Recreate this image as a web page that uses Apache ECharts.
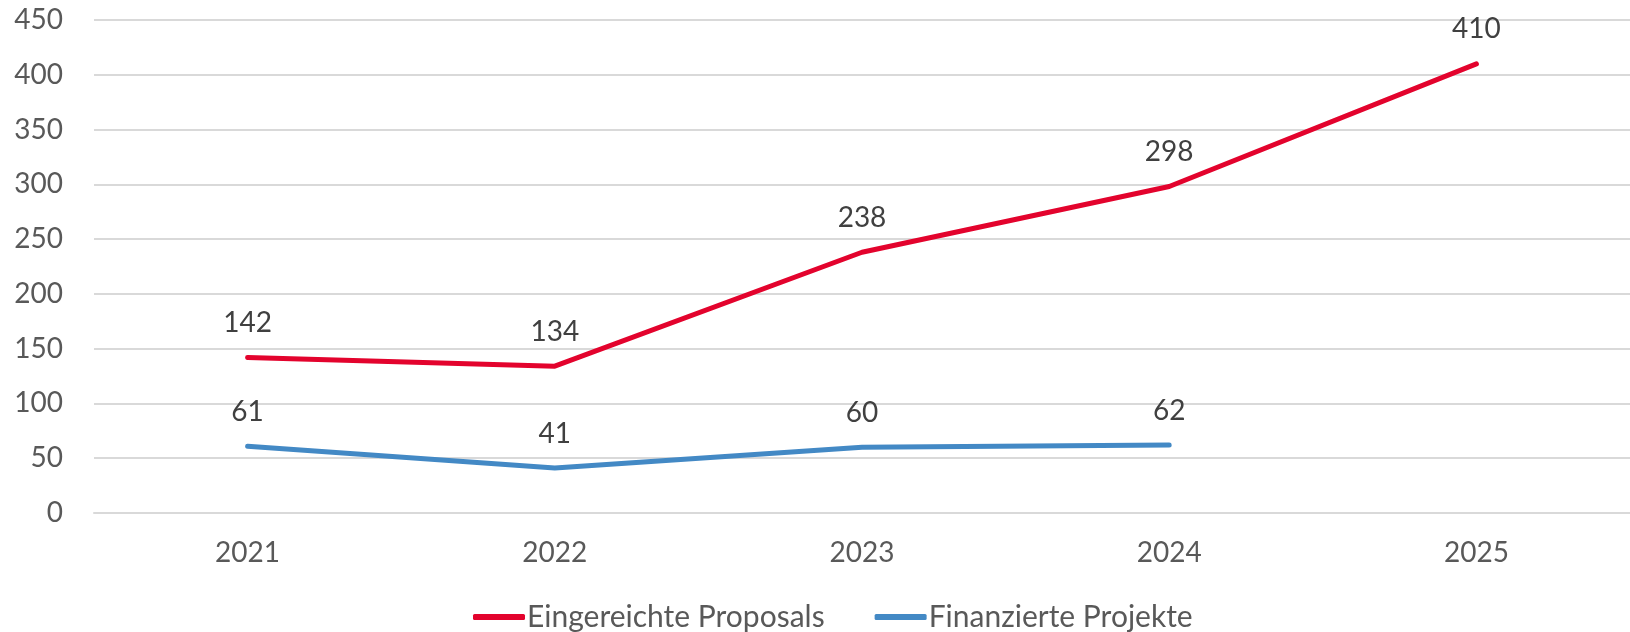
<!DOCTYPE html>
<html>
<head>
<meta charset="utf-8">
<script src="https://cdn.jsdelivr.net/npm/echarts@6/dist/echarts.min.js"></script>
<style>html,body{margin:0;padding:0;background:#fff}#c{width:1630px;height:632px}</style>
</head>
<body>
<div id="c"></div>
<script>
const categories = ['2021', '2022', '2023', '2024', '2025'];
const proposals = [142, 134, 238, 298, 410];
const projekte = [61, 41, 60, 62, null];
const seriesNames = ['Eingereichte Proposals', 'Finanzierte Projekte'];
const yTicks = { min: 0, max: 450, interval: 50 };

const FONT = 'Lato';
const chart = echarts.init(document.getElementById('c'), null, { renderer: 'canvas' });
function lineSeries(name, data, color) {
  return {
    name, type: 'line', data,
    symbol: 'circle', symbolSize: 1, showSymbol: true,
    connectNulls: false,
    lineStyle: { color, width: 5, cap: 'round', join: 'round' },
    itemStyle: { color },
    label: { show: true, position: 'top', distance: 20, color: '#404040', fontFamily: FONT, fontSize: 28 },
    emphasis: { disabled: true }
  };
}
chart.setOption({
  animation: false,
  grid: { left: 94, right: -2, top: 20, bottom: 119 },
  legend: {
    left: 468, top: 597,
    itemWidth: 52, itemHeight: 6, itemGap: 50,
    icon: 'roundRect',
    textStyle: { color: '#595959', fontFamily: FONT, fontSize: 30, padding: [0, 0, 0, -3] },
    data: seriesNames
  },
  xAxis: {
    type: 'category', data: categories, boundaryGap: true,
    axisLine: { show: true, lineStyle: { color: '#d9d9d9', width: 2 } },
    axisTick: { show: false },
    axisLabel: { color: '#595959', fontFamily: FONT, fontSize: 28, margin: 26 }
  },
  yAxis: {
    type: 'value', min: yTicks.min, max: yTicks.max, interval: yTicks.interval,
    axisLine: { show: false }, axisTick: { show: false },
    axisLabel: { color: '#595959', fontFamily: FONT, fontSize: 28, margin: 31 },
    splitLine: { lineStyle: { color: '#d9d9d9', width: 2 } }
  },
  series: [
    lineSeries(seriesNames[0], proposals, '#E3032D'),
    lineSeries(seriesNames[1], projekte, '#4389C5')
  ]
});
</script>
</body>
</html>
